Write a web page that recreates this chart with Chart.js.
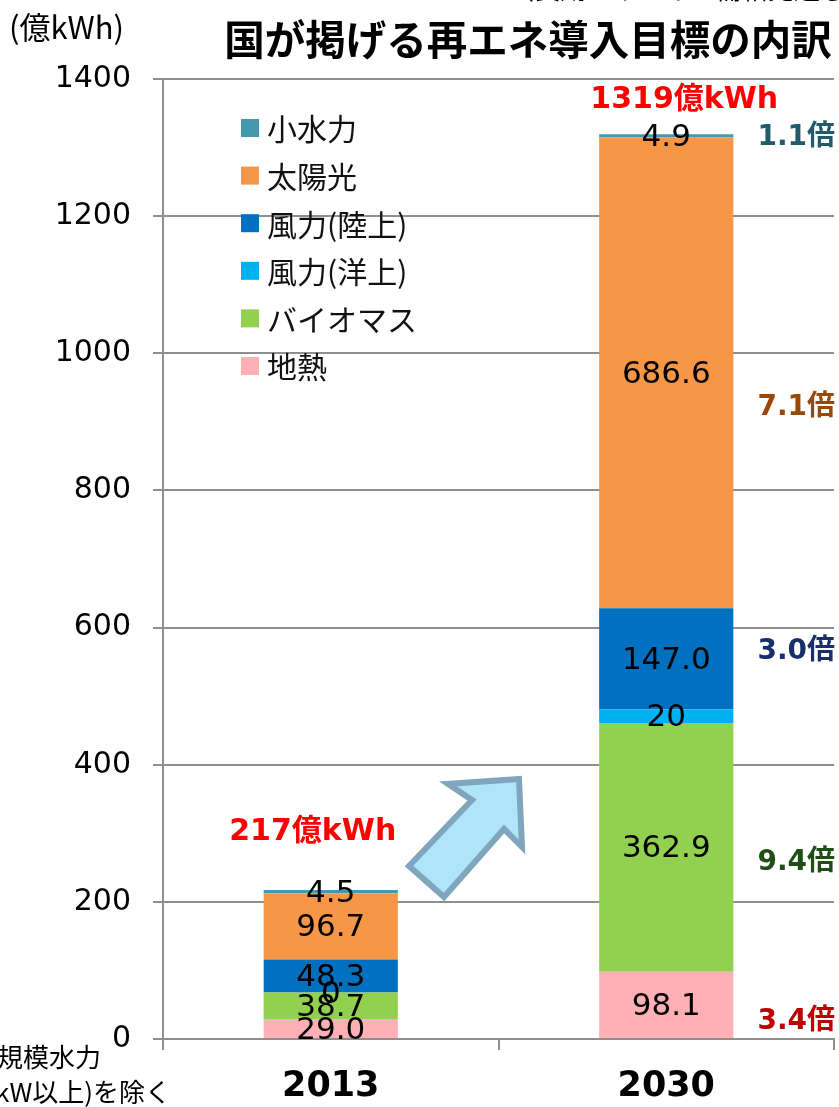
<!DOCTYPE html>
<html lang="ja">
<head>
<meta charset="utf-8">
<script src="https://cdn.jsdelivr.net/npm/chart.js@4.4.1/dist/chart.umd.min.js"></script>
<style>
  html, body { margin: 0; padding: 0; background: #fff; }
  #wrap { width: 839px; height: 1107px; position: relative; }
</style>
</head>
<body>
<div id="wrap"><canvas id="chart" width="839" height="1107"></canvas></div>
<script>
// ---------- data ----------
const categories   = ['2013', '2030'];
const geothermal   = [29.0, 98.1];   // 地熱
const biomass      = [38.7, 362.9];  // バイオマス
const windOffshore = [0, 20];        // 風力(洋上)
const windOnshore  = [48.3, 147.0];  // 風力(陸上)
const solar        = [96.7, 686.6];  // 太陽光
const smallHydro   = [4.5, 4.9];     // 小水力
const yMax = 1400, yStep = 200;

const titleText = '国が掲げる再エネ導入目標の内訳';
const unitText  = '(億kWh)';
const noteLines = ['※大規模水力', '(3万kW以上)を除く'];

// ---------- styles ----------
const GRID = '#8f8f8f';
const JP = '"Noto Sans CJK JP", "Noto Sans", sans-serif';
const NUM = '"DejaVu Sans", "Noto Sans CJK JP", sans-serif';

// series in stack order (bottom -> top); decimals for labels, ratio colour and nudge
const series = [
  { label: '地熱',       data: geothermal,   color: '#ffb0b5', dec: 1, ratioColor: '#c00000', ratioDy: 17 },
  { label: 'バイオマス', data: biomass,      color: '#92d050', dec: 1, ratioColor: '#1f4e16', ratioDy: 15 },
  { label: '風力(洋上)', data: windOffshore, color: '#00b0f0', dec: 0, ratioColor: null,      ratioDy: 0 },
  { label: '風力(陸上)', data: windOnshore,  color: '#0070c0', dec: 1, ratioColor: '#17306a', ratioDy: -7 },
  { label: '太陽光',     data: solar,        color: '#f79646', dec: 1, ratioColor: '#984807', ratioDy: 35 },
  { label: '小水力',     data: smallHydro,   color: '#4598ae', dec: 1, ratioColor: '#215a69', ratioDy: 2 }
];
const totalOffsets = [{ dx: -18, dy: -58 }, { dx: 18, dy: -34 }];

// ---------- overlay plugin ----------
const overlay = {
  id: 'overlay',
  afterDatasetsDraw(chart) {
    const ctx = chart.ctx;
    const n = categories.length;
    ctx.save();
    ctx.textAlign = 'center';
    ctx.textBaseline = 'middle';

    // segment labels
    ctx.fillStyle = '#000';
    ctx.font = '31px ' + NUM;
    chart.data.datasets.forEach((ds, di) => {
      const meta = chart.getDatasetMeta(di);
      meta.data.forEach((bar, i) => {
        const v = ds.data[i];
        ctx.fillText(v.toFixed(series[di].dec), bar.x, (bar.y + bar.base) / 2 + 2);
      });
    });

    // totals
    const yScale = chart.scales.y;
    ctx.fillStyle = '#ff0000';
    ctx.font = 'bold 30px ' + NUM;
    for (let i = 0; i < n; i++) {
      const total = series.reduce((a, s) => a + s.data[i], 0);
      const bar = chart.getDatasetMeta(0).data[i];
      const off = totalOffsets[i];
      ctx.fillText(Math.floor(total) + '億kWh', bar.x + off.dx, yScale.getPixelForValue(total) + off.dy);
    }

    // growth multipliers for 2030 vs 2013
    ctx.textAlign = 'right';
    ctx.font = 'bold 28px ' + NUM;
    series.forEach((s, di) => {
      if (!s.ratioColor || s.data[0] === 0) return;
      const bar = chart.getDatasetMeta(di).data[1];
      const ratio = s.data[1] / s.data[0];
      ctx.fillStyle = s.ratioColor;
      ctx.fillText(ratio.toFixed(1) + '倍', 835, (bar.y + bar.base) / 2 + s.ratioDy);
    });

    // legend (top -> bottom = reverse stack order)
    ctx.textAlign = 'left';
    ctx.font = '30px ' + JP;
    const rev = chart.data.datasets.slice().reverse();
    rev.forEach((ds, k) => {
      const cy = 128 + k * 47.6;
      ctx.fillStyle = ds.backgroundColor;
      ctx.fillRect(241, cy - 9, 18, 18);
      ctx.fillStyle = '#111';
      ctx.fillText(ds.label, 267, cy + 1);
    });

    // arrow
    ctx.beginPath();
    const pts = [[519, 779], [448, 784], [472, 800], [409, 866], [444, 897], [504, 829], [522, 847]];
    pts.forEach((p, k) => k ? ctx.lineTo(p[0], p[1]) : ctx.moveTo(p[0], p[1]));
    ctx.closePath();
    ctx.fillStyle = '#b0e4fb';
    ctx.fill();
    ctx.lineWidth = 6;
    ctx.lineJoin = 'miter';
    ctx.strokeStyle = '#7fa6bd';
    ctx.stroke();

    ctx.restore();
  },
  afterDraw(chart) {
    const ctx = chart.ctx;
    ctx.save();
    ctx.textBaseline = 'middle';
    ctx.fillStyle = '#000';

    ctx.textAlign = 'center';
    ctx.font = 'bold 40.5px ' + JP;
    ctx.fillText(titleText, 528, 40);

    ctx.textAlign = 'left';
    ctx.font = '31px ' + JP;
    ctx.fillText(unitText, 9, 27);

    // clipped header line at very top
    ctx.font = '26px ' + JP;
    ctx.textBaseline = 'alphabetic';
    ctx.fillText('（長期エネルギー需給見通し）', 508, -1);

    ctx.textBaseline = 'middle';
    ctx.textAlign = 'right';
    ctx.font = '26px ' + JP;
    ctx.fillText(noteLines[0], 101, 1057);
    ctx.fillText(noteLines[1], 171, 1092);
    ctx.restore();
  }
};

// ---------- chart ----------
new Chart(document.getElementById('chart'), {
  type: 'bar',
  data: {
    labels: categories,
    datasets: series.map(s => ({
      label: s.label,
      data: s.data,
      backgroundColor: s.color,
      borderWidth: 0,
      barPercentage: 0.4,
      categoryPercentage: 1.0
    }))
  },
  options: {
    responsive: false,
    animation: false,
    layout: { padding: { top: 79, right: 5, left: 0, bottom: 0 } },
    plugins: { legend: { display: false }, tooltip: { enabled: false } },
    scales: {
      x: {
        stacked: true,
        grid: { offset: true, drawOnChartArea: false, color: GRID, lineWidth: 2, tickLength: 11 },
        border: { color: GRID, width: 2 },
        ticks: { color: '#000', font: { family: NUM, size: 35, weight: 'bold' }, padding: 16 },
        afterFit: s => { s.height = 68; }
      },
      y: {
        stacked: true,
        min: 0,
        max: yMax,
        grid: { color: GRID, lineWidth: 2, tickLength: 10 },
        border: { color: GRID, width: 2 },
        ticks: {
          stepSize: yStep, color: '#000', font: { family: NUM, size: 30 }, padding: 22,
          callback: v => String(v)
        },
        afterFit: s => { s.width = 163; }
      }
    }
  },
  plugins: [overlay]
});
</script>
</body>
</html>
